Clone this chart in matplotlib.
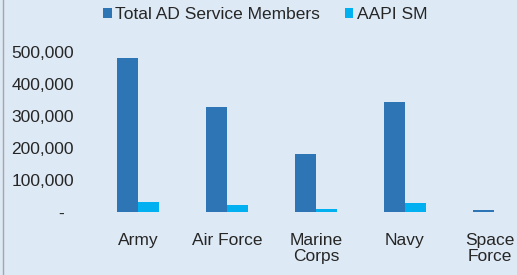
import numpy as np
import matplotlib.pyplot as plt
import matplotlib.transforms as mtransforms
from matplotlib.ticker import FuncFormatter
from matplotlib.lines import Line2D

# datos
branches = ['Army', 'Air Force', 'Marine\nCorps', 'Navy', 'Space\nForce']
total_ad = [482000, 328000, 180000, 345000, 5500]
aapi_sm = [31000, 21000, 8000, 27000, 500]
y_ticks = [0, 100000, 200000, 300000, 400000, 500000]

plt.rcParams['font.family'] = ['Liberation Sans', 'DejaVu Sans']

BG = '#dde9f5'
C_TOTAL = '#2e75b6'
C_AAPI = '#00b0f0'
FS = 12.5

fig = plt.figure(figsize=(5.17, 2.75), dpi=100, facecolor=BG)
ax = fig.add_axes([93.5 / 517, 63 / 275, (517 - 93.5) / 517, 160 / 275])
ax.set_facecolor(BG)

x = np.arange(len(branches))
w = 0.236
ax.bar(x - w / 2, total_ad, width=w, color=C_TOTAL, label='Total AD Service Members')
ax.bar(x + w / 2, aapi_sm, width=w, color=C_AAPI, label='AAPI SM')

ax.set_xlim(-0.5, 4.26)
ax.set_ylim(0, 500000)
ax.set_yticks(y_ticks)
ax.yaxis.set_major_formatter(FuncFormatter(lambda v, p: '-  ' if v == 0 else f'{int(v):,}'))
ax.set_xticks(x)
ax.set_xticklabels(branches, linespacing=1.1)

ax.tick_params(axis='y', length=0, pad=14, labelsize=FS, labelcolor='#262626')
ax.tick_params(axis='x', length=0, pad=15, labelsize=FS, labelcolor='#262626')
for s in ax.spines.values():
    s.set_visible(False)

# la ultima etiqueta se corre un poco para que quepa
last = ax.get_xticklabels()[-1]
last.set_transform(last.get_transform() + mtransforms.ScaledTranslation(-4 / 100, 0, fig.dpi_scale_trans))

# borde gris izquierdo
fig.add_artist(Line2D([2.5 / 517, 2.5 / 517], [0, 1], color='#a6a6a6', lw=1))

handles, labels = ax.get_legend_handles_labels()
fig.legend(handles, labels, loc='upper center', bbox_to_anchor=(0.513, 1.03), ncol=2,
           frameon=False, fontsize=FS, handlelength=0.5, handleheight=0.5,
           handletextpad=0.2, columnspacing=1.4, labelcolor='#262626')

fig.savefig('out.png', dpi=100, facecolor=BG)
